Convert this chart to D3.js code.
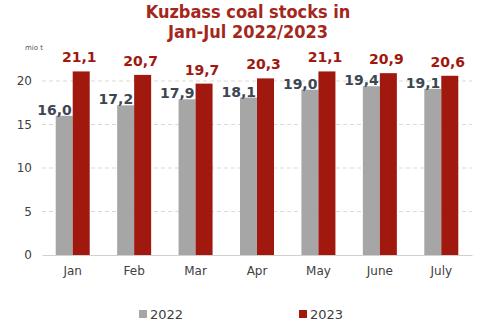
<!DOCTYPE html>
<html>
<head>
<meta charset="utf-8">
<script src="https://cdn.jsdelivr.net/npm/d3@7"></script>
<style>
  body { margin: 0; background: #fff; }
  svg { display: block; font-family: "DejaVu Sans", Verdana, sans-serif; }
</style>
</head>
<body>
<svg></svg>
<script>
var width = 495;
var height = 327;

var months = ['Jan', 'Feb', 'Mar', 'Apr', 'May', 'June', 'July'];
var years = ['2022', '2023'];
var v2022 = [16.0, 17.2, 17.9, 18.1, 19.0, 19.4, 19.1];
var v2023 = [21.1, 20.7, 19.7, 20.3, 21.1, 20.9, 20.6];
var yTicks = [0, 5, 10, 15, 20];

var colors = { '2022': '#a6a6a6', '2023': '#a0180e' };
var labelColors = { '2022': '#3d4753', '2023': '#a0180e' };

var svg = d3.select('svg')
    .attr('width', width)
    .attr('height', height);

var x = d3.scaleBand()
    .domain(months)
    .range([42, 472]);

var sub = d3.scaleBand()
    .domain(years)
    .range([x.bandwidth() / 2 - 17, x.bandwidth() / 2 + 17]);

var y = d3.scaleLinear()
    .domain([0, 20])
    .range([255, 81]);

// title
var title = svg.append('text')
    .attr('x', 248)
    .attr('text-anchor', 'middle')
    .attr('fill', '#a3271b')
    .attr('font-weight', 'bold')
    .attr('font-size', 18)
    .style('font-family', 'Tahoma, "DejaVu Sans Condensed", sans-serif');
title.append('tspan').attr('x', 248).attr('y', 18).text('Kuzbass coal stocks in');
title.append('tspan').attr('x', 248).attr('y', 38).text('Jan-Jul 2022/2023');

svg.append('text')
    .attr('x', 25)
    .attr('y', 50)
    .attr('font-size', 7)
    .attr('fill', '#555')
    .text('mio t');

// grid
svg.append('g')
    .selectAll('line')
    .data(yTicks.filter(function (d) { return d > 0; }))
    .enter()
    .append('line')
    .attr('x1', 42)
    .attr('x2', 472)
    .attr('y1', function (d) { return y(d); })
    .attr('y2', function (d) { return y(d); })
    .attr('stroke', '#d9d9d9')
    .attr('stroke-dasharray', '4,3');

// y axis
var yAxis = svg.append('g')
    .attr('transform', 'translate(32,0)')
    .call(d3.axisLeft(y).tickValues(yTicks).tickSize(0).tickPadding(0));
yAxis.select('.domain').remove();
yAxis.selectAll('text')
    .attr('font-size', 12)
    .attr('fill', '#404040')
    .style('font-family', '"DejaVu Sans", Verdana, sans-serif');

// bars
var rows = months.map(function (m, i) {
    return { month: m, vals: [{ year: '2022', v: v2022[i] }, { year: '2023', v: v2023[i] }] };
});

var groups = svg.append('g')
    .selectAll('g')
    .data(rows)
    .enter()
    .append('g')
    .attr('transform', function (d) { return 'translate(' + x(d.month) + ',0)'; });

groups.selectAll('rect')
    .data(function (d) { return d.vals; })
    .enter()
    .append('rect')
    .attr('x', function (d) { return sub(d.year); })
    .attr('width', sub.bandwidth())
    .attr('y', function (d) { return y(d.v); })
    .attr('height', function (d) { return y(0) - y(d.v); })
    .attr('fill', function (d) { return colors[d.year]; });

groups.selectAll('text.val')
    .data(function (d) { return d.vals; })
    .enter()
    .append('text')
    .attr('class', 'val')
    .attr('x', function (d) {
        return d.year === '2022' ? sub('2023') - 1 : sub(d.year) + sub.bandwidth() / 2 - 2;
    })
    .attr('y', function (d) { return d.year === '2022' ? y(d.v) - 1 : y(d.v) - 9; })
    .attr('text-anchor', function (d) { return d.year === '2022' ? 'end' : 'middle'; })
    .attr('font-size', 14)
    .attr('font-weight', 'bold')
    .attr('fill', function (d) { return labelColors[d.year]; })
    .text(function (d) { return d3.format('.1f')(d.v).replace('.', ','); });

// x axis
var xAxis = svg.append('g')
    .attr('transform', 'translate(0,' + y(0) + ')')
    .call(d3.axisBottom(x).tickSize(0).tickPadding(11));
xAxis.select('.domain').attr('stroke', '#d0d0d0');
xAxis.selectAll('text')
    .attr('font-size', 12)
    .attr('fill', '#404040')
    .style('font-family', '"DejaVu Sans", Verdana, sans-serif');

// legend
var legendX = d3.scaleOrdinal().domain(years).range([139, 299]);
var legend = svg.append('g')
    .selectAll('g')
    .data(years)
    .enter()
    .append('g')
    .attr('transform', function (d) { return 'translate(' + legendX(d) + ',310)'; });
legend.append('rect')
    .attr('width', 8)
    .attr('height', 8)
    .attr('fill', function (d) { return colors[d]; });
legend.append('text')
    .attr('x', 11)
    .attr('y', 8.5)
    .attr('font-size', 13)
    .attr('fill', '#404040')
    .text(function (d) { return d; });
</script>
</body>
</html>
